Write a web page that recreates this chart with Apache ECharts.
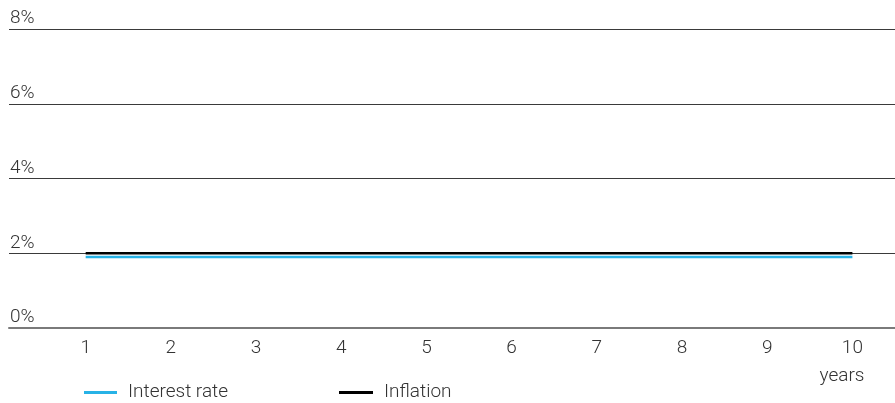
<!DOCTYPE html>
<html>
<head>
<meta charset="utf-8">
<style>
  html, body { margin: 0; padding: 0; background: #fff; }
  #chart { width: 895px; height: 403px; }
</style>
<script src="https://cdn.jsdelivr.net/npm/echarts@6/dist/echarts.min.js"></script>
</head>
<body>
<div id="chart"></div>
<script>
// Horizon in years
const years = [1, 2, 3, 4, 5, 6, 7, 8, 9, 10];
// Annual rates, in percent
const interestRate = [1.9, 1.9, 1.9, 1.9, 1.9, 1.9, 1.9, 1.9, 1.9, 1.9];
const inflation = [2, 2, 2, 2, 2, 2, 2, 2, 2, 2];
// Y axis ticks, in percent
const yTicks = [0, 2, 4, 6, 8];

const FONT = 'Roboto';
const WEIGHT = 300;
const SIZE = 19;
const TEXT = '#333';

const pairs = (vals) => years.map((y, i) => [y, vals[i]]);

const chart = echarts.init(document.getElementById('chart'), null, { renderer: 'canvas' });

const legendText = {
  fontFamily: FONT, fontWeight: WEIGHT, fontSize: SIZE, color: TEXT, padding: [0, 0, 0, 6]
};

chart.setOption({
  animation: false,
  backgroundColor: '#fff',
  textStyle: { fontFamily: FONT, fontWeight: WEIGHT },
  grid: { left: 9, right: 0, top: 29, bottom: 75, containLabel: false },
  xAxis: {
    type: 'value',
    min: 0.1,
    max: 10.5,
    name: 'years',
    nameLocation: 'end',
    nameGap: -53,
    nameTextStyle: {
      fontFamily: FONT, fontWeight: WEIGHT, fontSize: SIZE, color: TEXT,
      align: 'center', verticalAlign: 'top', padding: [39, 0, 0, 0]
    },
    axisLine: { show: true, lineStyle: { color: '#7a7a7a', width: 2 } },
    axisTick: { show: false },
    splitLine: { show: false },
    axisLabel: {
      customValues: years,
      margin: 11,
      fontFamily: FONT, fontWeight: WEIGHT, fontSize: SIZE, color: TEXT
    }
  },
  yAxis: {
    type: 'value',
    min: yTicks[0],
    max: yTicks[yTicks.length - 1],
    interval: 2,
    axisLine: { show: false },
    axisTick: { show: false },
    splitLine: { show: true, lineStyle: { color: '#3a3a3a', width: 1 } },
    axisLabel: {
      inside: true,
      margin: 1,
      verticalAlign: 'bottom',
      padding: [0, 0, 1, 0],
      formatter: '{value}%',
      fontFamily: FONT, fontWeight: WEIGHT, fontSize: SIZE, color: TEXT
    }
  },
  legend: [
    {
      data: ['Interest rate'],
      left: 79, top: 378,
      icon: 'rect', itemWidth: 33, itemHeight: 3, itemGap: 0,
      textStyle: legendText
    },
    {
      data: ['Inflation'],
      left: 334, top: 378,
      icon: 'rect', itemWidth: 34, itemHeight: 3, itemGap: 0,
      textStyle: legendText
    }
  ],
  series: [
    {
      name: 'Interest rate',
      type: 'line',
      data: pairs(interestRate),
      symbol: 'none',
      lineStyle: { color: '#27b2e6', width: 2.5 },
      itemStyle: { color: '#27b2e6' },
      z: 3
    },
    {
      name: 'Inflation',
      type: 'line',
      data: pairs(inflation),
      symbol: 'none',
      lineStyle: { color: '#000', width: 2.5 },
      itemStyle: { color: '#000' },
      z: 4
    }
  ]
});
</script>
</body>
</html>
